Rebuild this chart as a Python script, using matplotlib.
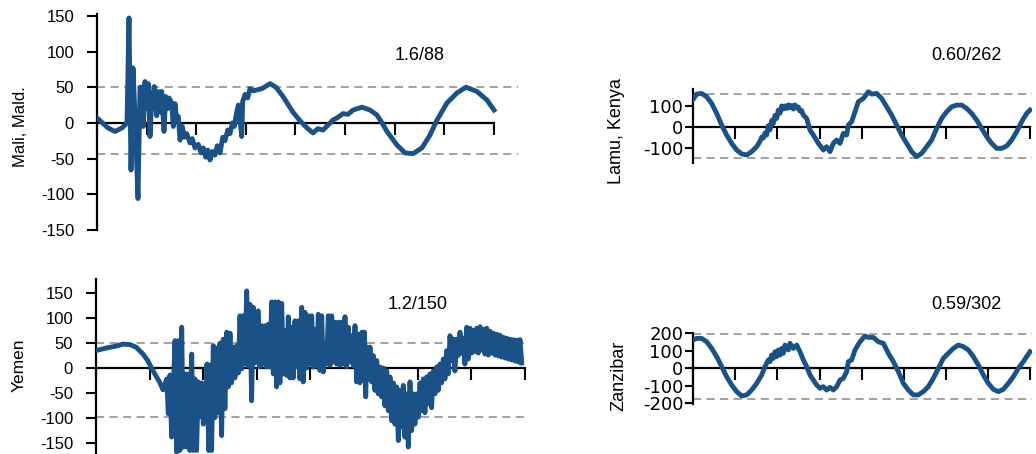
import matplotlib.pyplot as plt
import numpy as np

plt.rcParams['font.family'] = ['Liberation Sans', 'DejaVu Sans']
plt.rcParams['axes.unicode_minus'] = False

BLUE = '#1a5186'
GREY = '#9a9a9a'

# ---- Mali, Mald. (time in arbitrary sample units, anomaly)
mali_t = [0, 11, 18, 25, 30, 32, 34, 36, 38, 41, 43,
          44.7, 46.3, 48, 49.7, 51.3, 53, 54.7, 57.3, 59.7, 61.3, 63.7, 64.7, 67,
          68.7, 70.7, 72, 74.7, 76.3, 78, 79.7, 81.3, 83, 85.3, 87.3, 89.7, 93,
          95.3, 98, 101.3, 104, 106.3, 108.7, 110.7, 113, 115.3, 118, 120.3, 123,
          125.7, 128, 130.7, 133, 135.3, 137.3, 139.7, 141.3, 143, 144.7, 145.7,
          148, 150.7, 153, 156.3, 165, 173, 179, 186, 196, 203, 210, 216, 221,
          226, 236, 241, 246, 251, 256, 265, 273, 280, 285, 290, 300, 308, 316,
          325, 333, 340, 350, 360, 369, 380, 390, 397]
mali_v = [7, -7, -12, -7, 0, 147, -66, 77, 10, -106, 50,
          50, -5, 58, 20, 55, -19, 30, 51, 10, 44, 15, 44, -12,
          37, 20, 35, 28, -5, 27, 5, 9, -24, -5, -20, -15, -28,
          -22, -35, -30, -42, -35, -48, -38, -52, -40, -45, -32, -42,
          -20, -25, -10, -15, 0, -5, 15, 25, 5, -19, 30,
          40, 35, 48, 45, 48, 55, 50, 37, 15, 3, -7, -14, -8,
          -10, 4, 8, 13, 12, 18, 22, 18, 11, 0, -12, -31, -42, -43,
          -35, -17, 4, 28, 42, 50, 44, 32, 18]
mali_levels = [50, -43]

# ---- Yemen
yemen_t = [0, 10, 20, 27, 34, 40, 47, 52, 56, 60, 64, 67,
           70.7, 72.3, 74, 75.6, 79, 80.6, 82.3, 83.9, 85.7, 87.3, 89, 90.6,
           92.3, 93.9, 95.7, 97.3, 99, 100.6, 102.3, 103.9, 105.7, 107.3, 109, 110,
           111, 112.7, 114, 115.6, 117.3, 118.9, 120.7, 122.3, 124, 125.6, 127.3, 128.9,
           130.7, 132.3, 134, 135.6, 137.3, 138.9, 140.7, 142.3, 144, 145.6, 147.3, 148.9,
           150.7, 152.3, 154, 155.6, 157.3, 158.9,
           162.3, 163.9, 165.7, 167.3, 169, 170.6, 172.3, 173.9, 175.7, 177.3, 179, 180.6,
           182.3, 183.9, 185.7, 187.3, 189, 190.6, 192.3, 193.9, 195.7, 197.3, 199, 200.6,
           202.3, 203.9, 205.7, 207.3, 209, 210.6, 212.3, 213.9, 215.7, 217.3, 219, 220.6,
           222.3, 223.9, 225.7, 227.3, 229, 230.6, 232.3, 233.9, 235.7, 237.3, 239, 240.6,
           242.3, 243.9, 245.7, 247.3, 249, 250.6, 252.3, 253.9, 255.7, 257.3, 259, 260.6,
           262.3, 263.9, 266, 267.5, 268.5, 269.7,
           271, 272.5, 274, 275.6, 277.3, 278.9, 280.7, 282.3, 284, 285.6, 287.3, 288.9,
           290.7, 292.3, 294, 295.6, 297.3, 298.9, 300.7, 302.3, 304, 305.6, 307.3, 308.9,
           310.7, 312.3, 314, 315.6, 317.3, 318.9, 320.7, 322.3, 324, 325.6, 327.3, 328.9,
           330.7, 332.3, 334, 335.6, 337.3, 338.9, 340.7, 342.3, 344, 345.6, 347.3, 348.9,
           350.7, 352.3, 354, 355.6, 357.3, 358.9, 360.7, 362.3, 364, 365.6, 367.3, 368.9,
           370.7, 372.3, 374, 375.6,
           377.3, 379, 380.7, 382.3, 384, 385.6, 387.3, 389, 390.7, 392.3, 394, 395.6,
           397.3, 399, 400.7, 402.3, 404, 405.6, 407.3, 409, 410.7, 412.3, 414, 415.6,
           417.3, 419, 420.7, 422.3, 424, 425.7]
yemen_v = [35, 40, 44, 48, 47, 42, 28, 14, -2, -16, -30, -44,
           -22, -92, -14, -139, 55, -169, 55, -166, 82, -159, -12, -159,
           -12, -166, 28, -166, -22, -166, -28, -98, -30, -113, -58, -80,
           8, -166, 6, -166, 45, -100, 40, -90, 50, -136, 58, -82,
           72, -38, 70, -30, 42, -20, 45, -10, 105, -2, 105, 8,
           155, 4, 128, -66, 122, 10,
           115, 2, 85, 8, 85, 2, 88, 2, 133, -12, 133, -38,
           133, -30, 130, -12, 75, -15, 103, -20, 82, -20, 95, 2,
           95, -22, 122, -28, 112, 0, 105, 8, 105, 2, 78, 5,
           108, -5, 105, -8, 45, 8, 105, 5, 105, 12, 92, 8,
           92, 5, 92, 8, 103, 2, 82, 12, 65, 5, 85, -28,
           68, -30, 72, -25, 72, -58,
           42, -22, 42, -28, 25, -45, 15, -52, 2, -58, 0, -76,
           -6, -86, -18, -106, -30, -113, -38, -146, -45, -119, -35, -139,
           -52, -159, -28, -126, -52, -113, -52, -99, -30, -86, -22, -90,
           -18, -72, -12, -80, -6, -52, 2, -45, 8, -30, 18, -22,
           35, -12, 65, 15, 58, -6, 58, 25, 72, 30, 60, 8,
           82, 18, 80, 30,
           76, 33, 80, 30, 83, 36, 78, 28, 80, 26, 74, 30,
           70, 26, 68, 24, 66, 22, 62, 20, 60, 18, 58, 16,
           57, 14, 56, 12, 57, 10]
yemen_levels = [50, -99]

# ---- Lamu, Kenya
lamu_t = [0, 11, 26, 41, 56, 71, 86, 101, 116, 131, 146, 161, 176, 191,
          201, 206, 211, 216, 221, 226, 231, 236, 241, 246, 251, 256, 261, 266,
          271, 276, 281, 286, 291, 296, 301, 306, 311, 316, 321, 326, 331, 341,
          351, 361, 376, 391, 401, 411, 421, 431, 441, 451, 461, 466, 476, 486,
          496, 511, 526, 536, 551, 566, 581, 596, 611, 626, 641, 656, 671, 686,
          701, 716, 731, 746, 761, 776, 791, 806, 821, 836, 851, 866, 881, 896,
          911, 926, 941, 956, 971, 986, 1001, 1011]
lamu_v = [131, 157, 160, 144, 112, 64, 8, -40, -80, -112, -131, -136, -120, -96,
          -70, -50, -55, -30, -40, 5, -15, 30, 15, 55, 40, 80, 65, 100,
          85, 100, 88, 105, 92, 102, 85, 105, 90, 95, 75, 78, 56, 40,
          -16, -40, -80, -112, -96, -120, -80, -64, -80, -32, -40, 8, 24, 72,
          120, 136, 168, 157, 160, 136, 96, 56, 8, -40, -80, -120, -144, -128,
          -96, -64, -8, 40, 72, 96, 104, 104, 88, 64, 32, -8, -48, -80,
          -104, -104, -93, -64, -24, 24, 64, 80]
lamu_levels = [156, -149]

# ---- Zanzibar
zanz_t = [0, 11, 26, 41, 56, 71, 86, 101, 116, 131, 146, 161, 176, 191, 206,
          216, 221, 226, 231, 236, 241, 246, 251, 256, 261, 266, 271, 276, 286,
          291, 301, 311, 321, 331, 341, 351, 361, 371, 381, 391, 401, 411, 421,
          431, 441, 451, 461, 466, 476, 486, 501, 516, 526, 541, 556, 571, 586,
          601, 616, 631, 646, 661, 676, 691, 706, 721, 736, 751, 766, 781, 796,
          811, 826, 841, 856, 871, 886, 901, 916, 931, 946, 961, 976, 991, 1001, 1011]
zanz_v = [162, 171, 171, 152, 114, 67, 10, -48, -95, -133, -158, -152, -124, -86, -38,
          10, 29, 48, 38, 76, 57, 95, 67, 105, 76, 114, 86, 133, 105,
          143, 114, 133, 95, 48, 10, -38, -67, -95, -114, -105, -124, -109, -124,
          -105, -67, -57, -19, 38, 48, 105, 152, 185, 177, 177, 152, 143, 86,
          38, -19, -86, -124, -152, -152, -133, -105, -57, 0, 57, 86, 114, 133,
          124, 105, 67, 19, -38, -86, -120, -133, -120, -86, -48, 0, 38, 67, 95]
zanz_levels = [198, -173]

W, H = 1036, 454
fig = plt.figure(figsize=(W / 100, H / 100), dpi=100)


def panel(rect, t, v, levels, ylim, yticks, xlim, step, label, note,
          note_xy, label_xy, tick_fs, label_fs, ypad, ytick_len, tick_family=None):
    ax = fig.add_axes([rect[0] / W, 1 - rect[3] / H,
                       (rect[1] - rect[0]) / W, (rect[3] - rect[2]) / H])
    for lv in levels:
        ax.axhline(lv, color=GREY, lw=1.3, ls=(0, (4.5, 3)), zorder=1)
    ax.plot(t, v, color=BLUE, lw=3.5, zorder=3)
    ax.set_xlim(*xlim)
    ax.set_ylim(*ylim)
    for s in ['top', 'right']:
        ax.spines[s].set_visible(False)
    ax.spines['left'].set_linewidth(1.6)
    ax.spines['left'].set_bounds(*ylim)
    ax.spines['bottom'].set_position(('data', 0))
    ax.spines['bottom'].set_linewidth(1.6)
    ax.spines['bottom'].set_bounds(0, 8 * step)
    ax.set_xticks(np.arange(9) * step)
    ax.tick_params(axis='x', length=8.5, width=1.5, labelbottom=False)
    ax.set_yticks(yticks)
    ax.tick_params(axis='y', length=ytick_len, width=1.5, pad=ypad,
                   labelsize=tick_fs)
    if tick_family:
        for lab in ax.get_yticklabels():
            lab.set_family(tick_family)
    ax.set_ylabel(label, fontsize=label_fs)
    ax.yaxis.set_label_coords(*label_xy)
    ax.text(note_xy[0], note_xy[1], note, transform=ax.transAxes,
            ha='center', va='center', fontsize=13)
    ax.patch.set_visible(False)
    return ax


panel((97, 518, 14.4, 230), mali_t, mali_v, mali_levels, (-150, 152),
      [-150, -100, -50, 0, 50, 100, 150], (0, 421), 49.6,
      'Mali, Mald.', '1.6/88', (0.767, 0.81), (-0.165, 0.478), 12, 12, 9.5, 7)
panel((96, 527, 278.5, 467.4), yemen_t, yemen_v, yemen_levels, (-200, 180),
      [-150, -100, -50, 0, 50, 100, 150], (0, 431), 53.6,
      'Yemen', '1.2/150', (0.747, 0.86), (-0.162, 0.542), 12, 12.5, 9.5, 7)
panel((693, 1032, 89.3, 163.3), lamu_t, lamu_v, lamu_levels, (-176, 180),
      [-100, 0, 100], (0, 1017), 126.5,
      'Lamu, Kenya', '0.60/262', (0.807, 1.46), (-0.2, 0.436), 13, 13, 1, 6,
      'DejaVu Sans')
panel((693, 1032, 333, 404), zanz_t, zanz_v, zanz_levels, (-204, 202),
      [-200, -100, 0, 100, 200], (0, 1017), 126.5,
      'Zanzibar', '0.59/302', (0.807, 1.40), (-0.195, 0.40), 13, 13, 1, 6,
      'DejaVu Sans')

fig.savefig('out.png', dpi=100)
